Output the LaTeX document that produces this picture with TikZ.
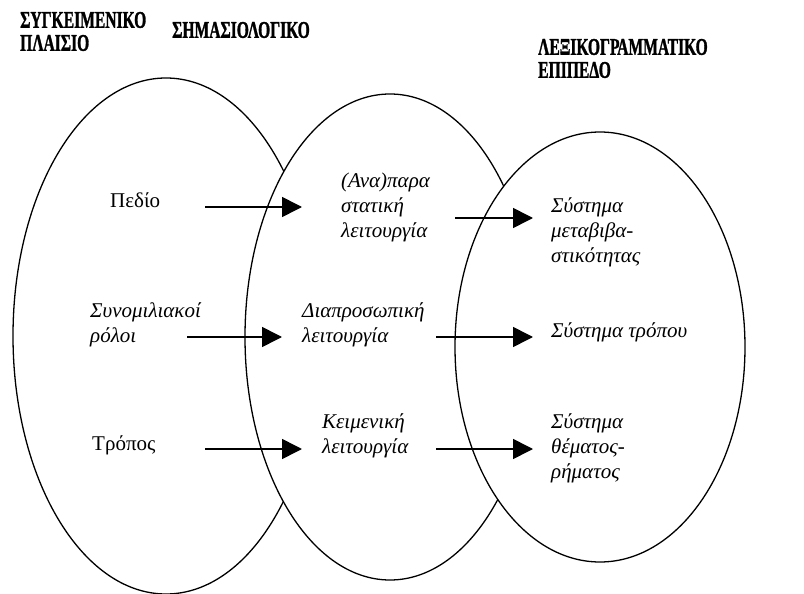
\documentclass[tikz,border=0pt]{standalone}
\usepackage{fontspec}
\setmainfont{Liberation Serif}
\newfontfamily\titlefont[FakeStretch=0.65,FakeBold=1.2]{Liberation Serif Bold}
\usetikzlibrary{arrows.meta}
\tikzset{
  oval/.style={draw=black, fill=white, line width=1.3pt},
  title/.style={anchor=west, inner sep=0pt, align=left, font=\titlefont\fontsize{24}{23}\selectfont},
  body/.style={anchor=west, inner sep=0pt, align=left, font=\fontsize{21}{25}\selectfont},
  ibody/.style={body, font=\fontsize{21}{25}\selectfont\itshape},
  arr/.style={line width=1.6pt, -{Triangle[length=20pt,width=20pt]}}
}
\begin{document}
\begin{tikzpicture}[x=1pt,y=-1pt]
\useasboundingbox (0,0) rectangle (804,594);
% ellipses
\path[oval] (166,336) ellipse [x radius=153pt, y radius=258pt];
\path[oval] (390,337) ellipse [x radius=145pt, y radius=243pt];
\path[oval] (600,347) ellipse [x radius=145pt, y radius=215pt];
% titles
\node[title] (t1) at (20,31.5) {ΣΥΓΚΕΙΜΕΝΙΚΟ\\ΠΛΑΙΣΙΟ};
\node[title] (t2) at (172,30) {ΣΗΜΑΣΙΟΛΟΓΙΚΟ};
\node[title] (t3) at (538,58.5) {ΛΕΞΙΚΟΓΡΑΜΜΑΤΙΚΟ\\ΕΠΙΠΕΔΟ};
% left column
\node[body] (l1) at (110,200) {Πεδίο};
\node[ibody] (l2) at (90,324.5) {Συνομιλιακοί\\ρόλοι};
\node[body] (l3) at (92,445) {Τρόπος};
% middle column
\node[ibody] (m1) at (341,207) {(Ανα)παρα\\στατική\\λειτουργία};
\node[ibody] (m2) at (302,324.5) {Διαπροσωπική\\λειτουργία};
\node[ibody] (m3) at (322,436) {Κειμενική\\λειτουργία};
% right column
\node[ibody] (r1) at (551,232) {Σύστημα\\μεταβιβα-\\στικότητας};
\node[ibody] (r2) at (551,332) {Σύστημα τρόπου};
\node[ibody] (r3) at (551,448) {Σύστημα\\θέματος-\\ρήματος};
% arrow endpoints
\coordinate (a1s) at (205,207); \coordinate (a1e) at (302,207);
\coordinate (b1s) at (455,218); \coordinate (b1e) at (533,218);
\coordinate (a2s) at (187,337); \coordinate (a2e) at (282,337);
\coordinate (b2s) at (436,337); \coordinate (b2e) at (533,337);
\coordinate (a3s) at (205,449); \coordinate (a3e) at (302,449);
\coordinate (b3s) at (436,449); \coordinate (b3e) at (533,449);
\draw[arr] (a1s) -- (a1e);
\draw[arr] (b1s) -- (b1e);
\draw[arr] (a2s) -- (a2e);
\draw[arr] (b2s) -- (b2e);
\draw[arr] (a3s) -- (a3e);
\draw[arr] (b3s) -- (b3e);
\end{tikzpicture}
\end{document}
